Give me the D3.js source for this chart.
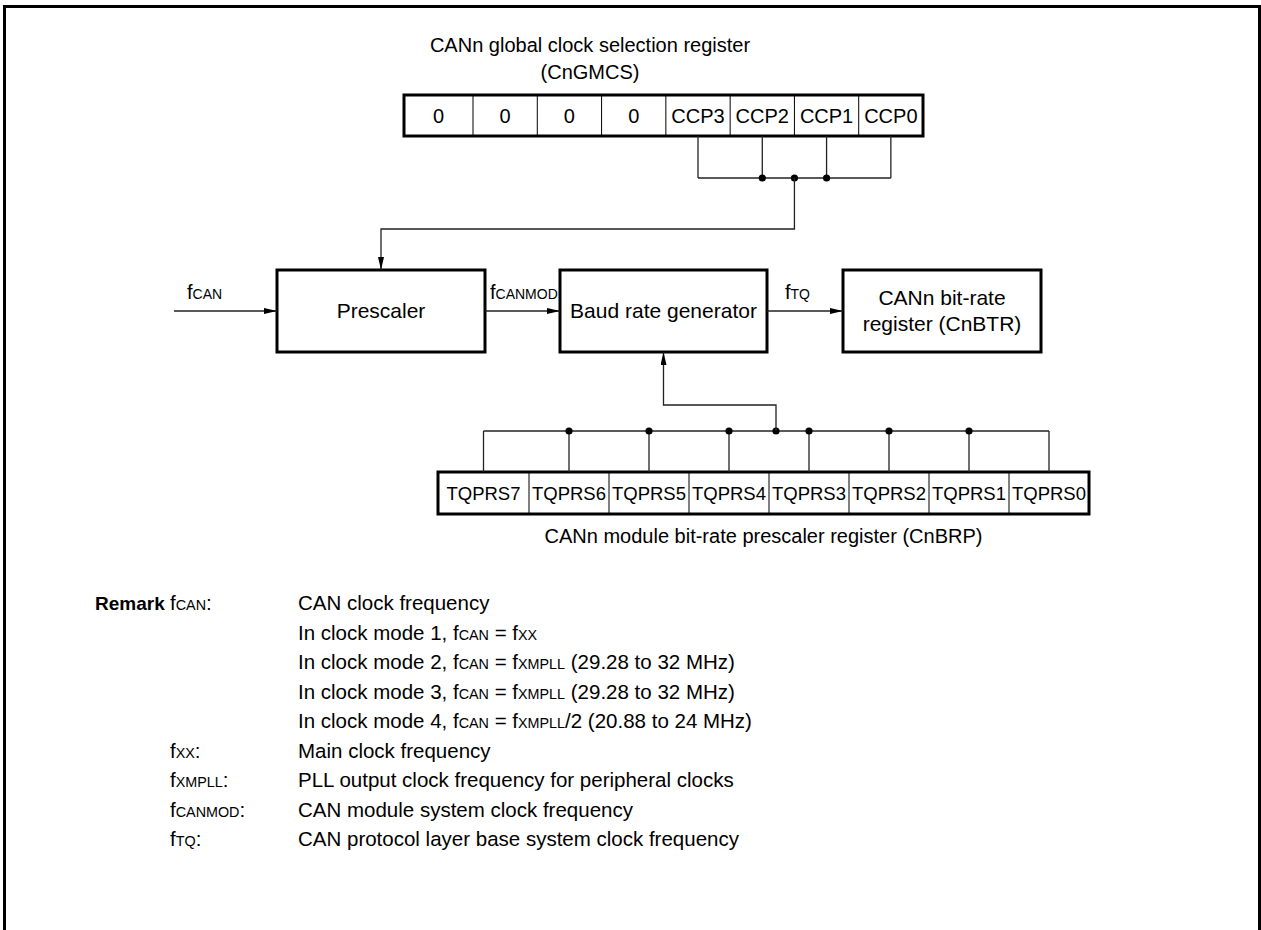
<!DOCTYPE html>
<html>
<head>
<meta charset="utf-8">
<script src="https://cdn.jsdelivr.net/npm/d3@7"></script>
<style>
html, body { margin: 0; padding: 0; background: #fff; }
svg { display: block; font-family: "Liberation Sans", Arial, Helvetica, sans-serif; }
</style>
</head>
<body>
<svg id="diagram"></svg>
<script>
// CAN clock path block diagram
const width = 1261;
const height = 930;

// register contents
const gmcsBits = ["0", "0", "0", "0", "CCP3", "CCP2", "CCP1", "CCP0"];
const gmcsTaps = ["CCP3", "CCP2", "CCP1", "CCP0"];
const gmcsTitle = ["CANn global clock selection register", "(CnGMCS)"];
const brpBits = ["TQPRS7", "TQPRS6", "TQPRS5", "TQPRS4", "TQPRS3", "TQPRS2", "TQPRS1", "TQPRS0"];
const brpTaps = ["TQPRS7", "TQPRS6", "TQPRS5", "TQPRS4", "TQPRS3", "TQPRS2", "TQPRS1", "TQPRS0"];
const brpTitle = "CANn module bit-rate prescaler register (CnBRP)";

// blocks and the signals between them ("_{..}" = small letters)
const blockNames = ["Prescaler", "Baud rate generator", "CANn bit-rate|register (CnBTR)"];
const signalNames = ["f_{CAN}", "f_{CANMOD}", "f_{TQ}"];

// remark
const remarkTerms = ["f_{CAN}:", "", "", "", "", "f_{XX}:", "f_{XMPLL}:", "f_{CANMOD}:", "f_{TQ}:"];
const remarkTexts = [
    "CAN clock frequency",
    "In clock mode 1, f_{CAN} = f_{XX}",
    "In clock mode 2, f_{CAN} = f_{XMPLL} (29.28 to 32 MHz)",
    "In clock mode 3, f_{CAN} = f_{XMPLL} (29.28 to 32 MHz)",
    "In clock mode 4, f_{CAN} = f_{XMPLL}/2 (20.88 to 24 MHz)",
    "Main clock frequency",
    "PLL output clock frequency for peripheral clocks",
    "CAN module system clock frequency",
    "CAN protocol layer base system clock frequency"
];

const svg = d3.select("#diagram").attr("width", width).attr("height", height);

// arrow head
svg.append("defs").append("marker")
    .attr("id", "arrow")
    .attr("markerUnits", "userSpaceOnUse")
    .attr("viewBox", "0 0 13 6")
    .attr("refX", 13).attr("refY", 3)
    .attr("markerWidth", 13).attr("markerHeight", 6)
    .attr("orient", "auto")
    .append("path").attr("d", "M0,0L13,3L0,6Z").attr("fill", "#000");

// outer frame (open at the bottom)
svg.append("path")
    .attr("d", `M4.5,${height}V6.5H${width - 1.5}V${height}`)
    .attr("fill", "none").attr("stroke", "#000").attr("stroke-width", 3);

// text with small letters for the "_{..}" parts
function rich(sel, str, size) {
    str.split(/(_\{[^}]*\})/).filter(s => s.length).forEach(s => {
        if (s.startsWith("_{")) sel.append("tspan").attr("font-size", size * 0.7).text(s.slice(2, -1));
        else sel.append("tspan").text(s);
    });
    return sel;
}

function line(pts, arrow) {
    const p = svg.append("path")
        .attr("d", d3.line()(pts))
        .attr("fill", "none").attr("stroke", "#222").attr("stroke-width", 1.3);
    if (arrow) p.attr("marker-end", "url(#arrow)");
}
function dot(x, y) {
    svg.append("circle").attr("cx", x).attr("cy", y).attr("r", 3.6).attr("fill", "#000");
}

// register: band scale over bit index, first cell stretched to the left edge
function register(bits, left, right, top, bottom, firstWidth, fontSize) {
    const x = d3.scaleBand().domain(d3.range(bits.length)).range([left + firstWidth - (right - left - firstWidth) / (bits.length - 1), right]);
    const cell = i => [i === 0 ? left : x(i), x(i) + x.bandwidth()];
    const g = svg.append("g");
    g.selectAll("line").data(d3.range(1, bits.length)).join("line")
        .attr("x1", i => x(i)).attr("x2", i => x(i))
        .attr("y1", top).attr("y2", bottom)
        .attr("stroke", "#000").attr("stroke-width", 1);
    g.append("rect")
        .attr("x", left).attr("y", top)
        .attr("width", right - left).attr("height", bottom - top)
        .attr("fill", "none").attr("stroke", "#000").attr("stroke-width", 3);
    g.selectAll("text").data(bits).join("text")
        .attr("x", (d, i) => d3.mean(cell(i)))
        .attr("y", (top + bottom) / 2 + fontSize * 0.36)
        .attr("text-anchor", "middle").attr("font-size", fontSize)
        .text(d => d);
    return { center: name => d3.mean(cell(bits.indexOf(name))), edge: name => x(bits.indexOf(name)) };
}

// ---- top register (CnGMCS)
const gTop = 95, gBot = 136;
const gmcs = register(gmcsBits, 404, 923, gTop, gBot, 69, 20);

svg.selectAll("text.gtitle").data(gmcsTitle).join("text")
    .attr("class", "gtitle")
    .attr("x", 590).attr("y", (d, i) => 52 + i * 27)
    .attr("text-anchor", "middle").attr("font-size", 20)
    .text(d => d);

// taps of CCP3..CCP0
const gBus = 178;
const gTapX = gmcsTaps.map(gmcs.center);
gTapX.forEach(x => line([[x, gBot], [x, gBus]]));
line([[d3.min(gTapX), gBus], [d3.max(gTapX), gBus]]);
const gJoin = gmcs.edge("CCP1");
gTapX.slice(1, -1).forEach(x => dot(x, gBus));
dot(gJoin, gBus);

// ---- blocks
const bTop = 270, bBot = 352, bMid = 311;
const blockX = [[277, 485], [560, 767], [843, 1041]];
blockNames.forEach((name, i) => {
    const [x0, x1] = blockX[i];
    svg.append("rect").attr("x", x0).attr("y", bTop).attr("width", x1 - x0).attr("height", bBot - bTop)
        .attr("fill", "none").attr("stroke", "#000").attr("stroke-width", 3);
    const rows = name.split("|");
    rows.forEach((r, k) => {
        svg.append("text")
            .attr("x", (x0 + x1) / 2)
            .attr("y", bMid + 7 + (k - (rows.length - 1) / 2) * 26)
            .attr("text-anchor", "middle").attr("font-size", 21)
            .text(r);
    });
});

// signal arrows
const sigFrom = [174, blockX[0][1], blockX[1][1]];
const sigTo = [blockX[0][0], blockX[1][0], blockX[2][0]];
const sigLabelDx = [13, 5, 18];
signalNames.forEach((s, i) => {
    line([[sigFrom[i], bMid], [sigTo[i], bMid]], true);
    rich(svg.append("text")
        .attr("x", sigFrom[i] + sigLabelDx[i]).attr("y", 299)
        .attr("font-size", 20), s, 20);
});

// feedback from CnGMCS to prescaler
const preMid = (blockX[0][0] + blockX[0][1]) / 2;
line([[gJoin, gBus], [gJoin, 229], [preMid, 229], [preMid, bTop]], true);

// ---- bottom register (CnBRP)
const rTop = 472, rBot = 514;
const brp = register(brpBits, 438, 1089, rTop, rBot, 91, 18.5);

svg.append("text")
    .attr("x", (438 + 1089) / 2).attr("y", 543)
    .attr("text-anchor", "middle").attr("font-size", 20)
    .text(brpTitle);

const rBus = 431;
const rTapX = brpTaps.map(brp.center);
rTapX.forEach(x => line([[x, rBus], [x, rTop]]));
line([[d3.min(rTapX), rBus], [d3.max(rTapX), rBus]]);
rTapX.slice(1, -1).forEach(x => dot(x, rBus));
const rJoin = brp.edge("TQPRS3") + 7;
dot(rJoin, rBus);

const brgMid = (blockX[1][0] + blockX[1][1]) / 2;
line([[rJoin, rBus], [rJoin, 405], [brgMid, 405], [brgMid, bBot]], true);

// ---- remark
const remTop = 610, remStep = 29.5, remSize = 20.5;
svg.append("text").attr("x", 95).attr("y", remTop)
    .attr("font-size", 19).attr("font-weight", "bold").text("Remark");
remarkTexts.forEach((t, i) => {
    const y = remTop + i * remStep;
    if (remarkTerms[i]) rich(svg.append("text").attr("x", 170).attr("y", y).attr("font-size", remSize), remarkTerms[i], remSize);
    rich(svg.append("text").attr("x", 298).attr("y", y).attr("font-size", remSize), t, remSize);
});
</script>
</body>
</html>
